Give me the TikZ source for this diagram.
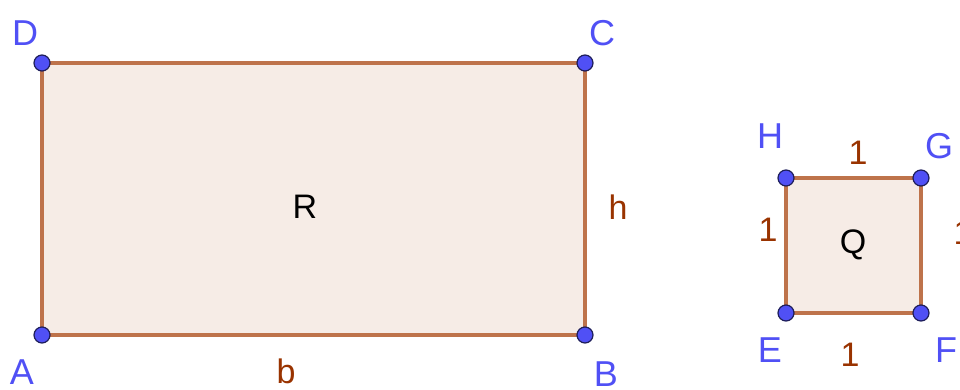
\documentclass[tikz,border=0pt]{standalone}
\usepackage{fontspec}
\setmainfont{Liberation Sans}
\definecolor{edgebrown}{RGB}{190,115,75}
\definecolor{fillbrown}{RGB}{246,236,230}
\definecolor{labelbrown}{RGB}{153,51,0}
\definecolor{ptblue}{RGB}{80,80,245}
\definecolor{ptedge}{RGB}{30,30,90}
\tikzset{
  pt/.style={circle,fill=ptblue,draw=ptedge,line width=0.6pt,inner sep=0pt,minimum size=8pt},
  ptname/.style={text=ptblue,font=\fontsize{18}{21}\selectfont},
  sidename/.style={text=labelbrown,font=\fontsize{17}{20}\selectfont},
  polyname/.style={text=black,font=\fontsize{17}{20}\selectfont},
}
\begin{document}
\begin{tikzpicture}[x=0.5pt,y=-0.5pt]
\useasboundingbox (0,0) rectangle (960,390);
% corners of R and Q
\coordinate (A) at (42,335);
\coordinate (B) at (585,335);
\coordinate (C) at (585,63);
\coordinate (D) at (42,63);
\coordinate (E) at (786,313);
\coordinate (F) at (921,313);
\coordinate (G) at (921,178);
\coordinate (H) at (786,178);
\draw[edgebrown,fill=fillbrown,line width=1.6pt] (A) -- (B) -- (C) -- (D) -- cycle; % rectangle R
\draw[edgebrown,fill=fillbrown,line width=1.6pt] (E) -- (F) -- (G) -- (H) -- cycle; % square Q
\foreach \p in {A,B,C,D,E,F,G,H} % edit here for the points
\node[pt] (dot\p) at (\p) {};
% point names
\node[ptname] (nA) at (22,372) {A};
\node[ptname] (nB) at (606,374) {B};
\node[ptname] (nC) at (602,33) {C};
\node[ptname] (nD) at (25,33) {D};
\node[ptname] (nE) at (770,350) {E};
\node[ptname] (nF) at (946,350) {F};
\node[ptname] (nG) at (939,146) {G};
\node[ptname] (nH) at (770,136) {H};
% side lengths
\node[sidename] (sb) at (286,371) {b};
\node[sidename] (sh) at (618,207) {h};
\node[sidename] (sEF) at (850,355) {1};
\node[sidename] (sGH) at (858,153) {1};
\node[sidename] (sEH) at (768,230) {1};
\node[sidename] (sFG) at (963,233) {1};
% polygon names
\node[polyname] (nR) at (305,207) {R};
\node[polyname] (nQ) at (853,245) {Q};
\end{tikzpicture}
\end{document}
